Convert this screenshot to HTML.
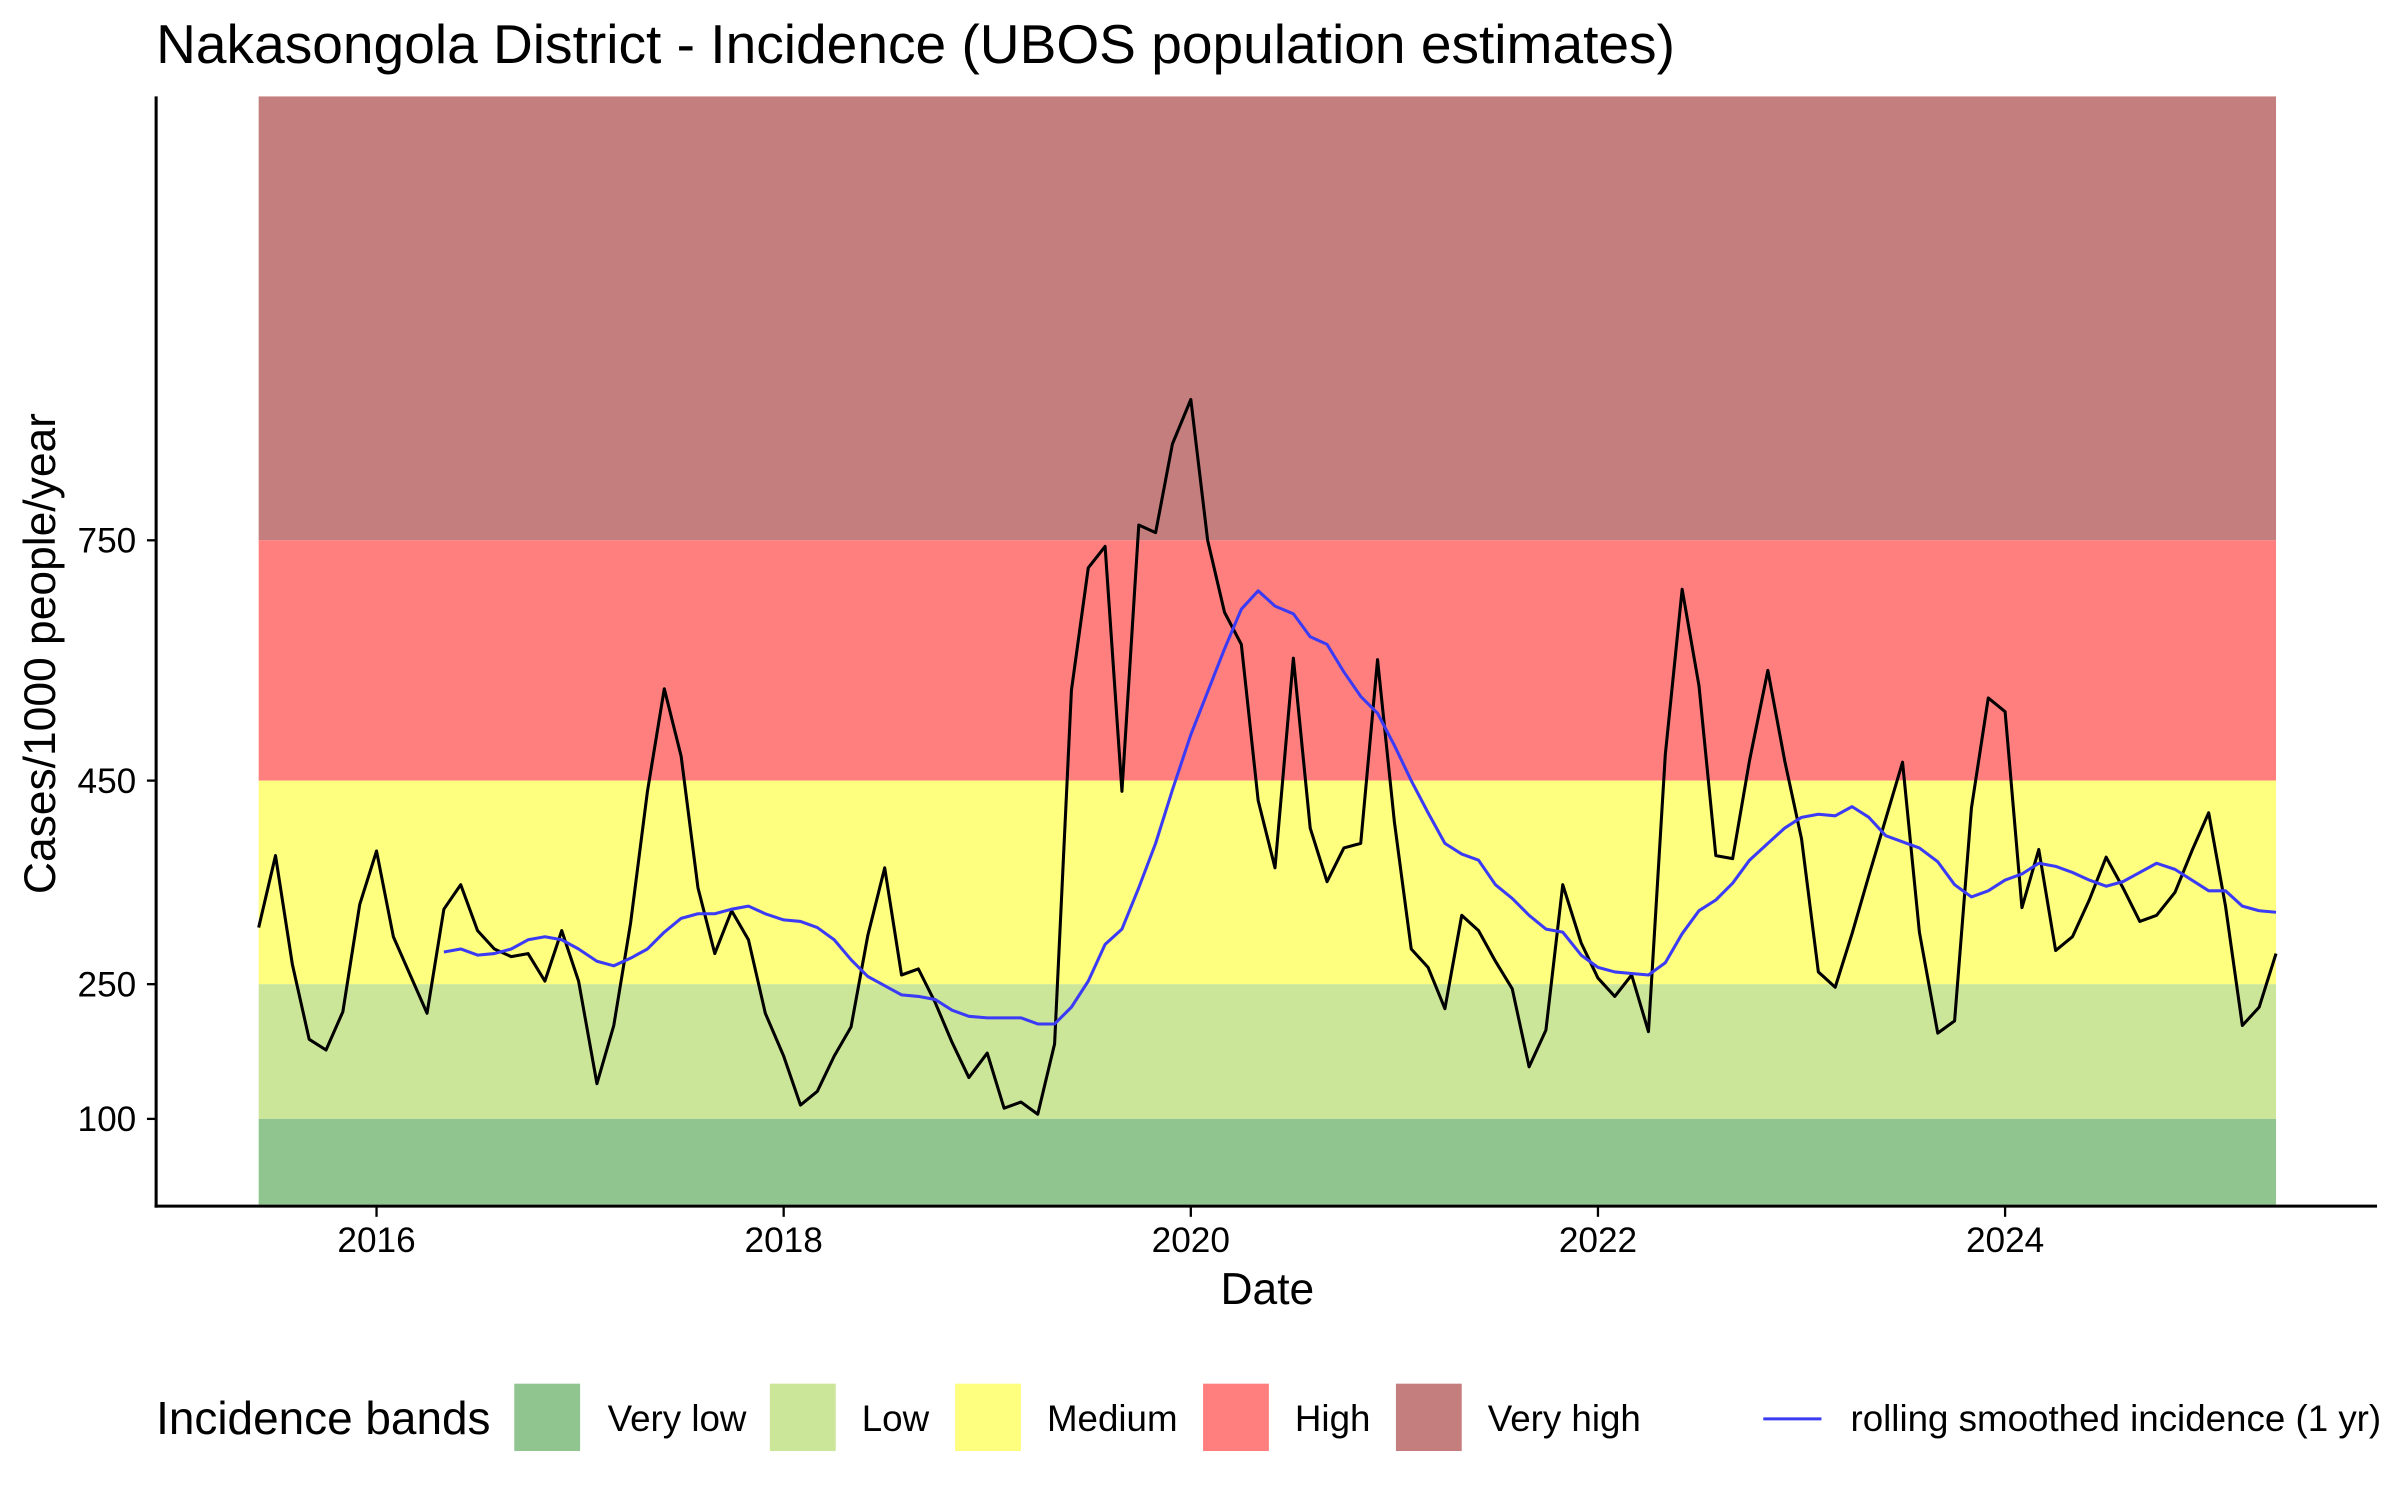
<!DOCTYPE html>
<html><head><meta charset="utf-8"><style>html,body{margin:0;padding:0;background:#fff}svg{display:block}</style></head><body>
<svg width="2400" height="1500" viewBox="0 0 1568 980" xmlns="http://www.w3.org/2000/svg" font-family="Liberation Sans, Arial, sans-serif">
<rect width="1568" height="980" fill="#fff"/>
<text x="102" y="41" font-size="36">Nakasongola District - Incidence (UBOS population estimates)</text>
<rect x="169" y="63" width="1318" height="290" fill="#C47E7E"/>
<rect x="169" y="353" width="1318" height="157" fill="#FF7F7F"/>
<rect x="169" y="510" width="1318" height="133" fill="#FFFF7F"/>
<rect x="169" y="643" width="1318" height="88" fill="#CCE699"/>
<rect x="169" y="731" width="1318" height="56" fill="#91C58F"/>
<polyline fill="none" stroke="#000" stroke-width="2" stroke-linejoin="round" points="169,606 180,559 191,630 202,679 213,686 224,661 235,591 246,556 257,612 268,637 279,662 290,594 301,578 312,608 323,620 334,625 345,623 356,641 367,608 378,641 390,708 401,670 412,603 423,517 434,450 445,494 456,580 467,623 478,595 489,614 500,662 512,690 523,722 534,713 545,690 556,671 567,611 578,567 589,637 600,633 611,655 622,681 633,704 645,688 656,724 667,720 678,728 689,682 700,451 711,371 722,357 733,517 744,343 755,348 766,290 778,261 789,353 800,400 811,421 822,523 833,567 845,430 856,541 867,576 878,554 889,551 900,431 911,537 922,620 933,632 944,659 955,598 966,608 977,628 988,646 999,697 1010,673 1021,578 1033,616 1044,639 1055,651 1066,637 1077,674 1088,493 1099,385 1110,448 1121,559 1132,561 1143,497 1155,438 1166,497 1177,548 1188,635 1199,645 1210,610 1221,572 1232,535 1243,498 1254,609 1266,675 1277,667 1288,528 1299,456 1310,465 1321,593 1332,555 1343,621 1354,612 1365,588 1376,560 1387,580 1398,602 1409,598 1421,583 1432,556 1443,531 1454,592 1465,670 1476,658 1487,623"/>
<polyline fill="none" stroke="#3B3BF5" stroke-width="2" stroke-linejoin="round" points="290,622 301,620 312,624 323,623 334,620 345,614 356,612 367,614 378,620 390,628 401,631 412,626 423,620 434,609 445,600 456,597 467,597 478,594 489,592 500,597 512,601 523,602 534,606 545,614 556,627 567,638 578,644 589,650 600,651 611,653 622,660 633,664 645,665 656,665 667,665 678,669 689,669 700,658 711,641 722,617 733,607 744,580 755,551 766,516 778,480 789,452 800,424 811,398 822,386 833,396 845,401 856,416 867,421 878,439 889,455 900,466 911,487 922,510 933,531 944,551 955,558 966,562 977,578 988,587 999,598 1010,607 1021,609 1033,624 1044,632 1055,635 1066,636 1077,637 1088,629 1099,610 1110,595 1121,588 1132,577 1143,562 1155,551 1166,541 1177,534 1188,532 1199,533 1210,527 1221,534 1232,546 1243,550 1254,554 1266,563 1277,578 1288,586 1299,582 1310,575 1321,571 1332,564 1343,566 1354,570 1365,575 1376,579 1387,576 1398,570 1409,564 1421,568 1432,575 1443,582 1454,582 1465,592 1476,595 1487,596"/>
<line x1="102" y1="63" x2="102" y2="789" stroke="#000" stroke-width="2"/>
<line x1="101" y1="788" x2="1553" y2="788" stroke="#000" stroke-width="2"/>
<g stroke="#000" stroke-width="1.5">
<line x1="96" y1="353" x2="102" y2="353"/><line x1="96" y1="510" x2="102" y2="510"/><line x1="96" y1="643" x2="102" y2="643"/><line x1="96" y1="731" x2="102" y2="731"/>
<line x1="246" y1="788" x2="246" y2="795"/><line x1="512" y1="788" x2="512" y2="795"/><line x1="778" y1="788" x2="778" y2="795"/><line x1="1044" y1="788" x2="1044" y2="795"/><line x1="1310" y1="788" x2="1310" y2="795"/>
</g>
<g font-size="23" text-anchor="end">
<text x="89" y="361">750</text><text x="89" y="518">450</text><text x="89" y="651">250</text><text x="89" y="739">100</text>
</g>
<g font-size="23" text-anchor="middle">
<text x="246" y="818">2016</text><text x="512" y="818">2018</text><text x="778" y="818">2020</text><text x="1044" y="818">2022</text><text x="1310" y="818">2024</text>
</g>
<text x="828" y="852" font-size="29" text-anchor="middle">Date</text>
<text transform="translate(36,427) rotate(-90)" font-size="29" text-anchor="middle">Cases/1000 people/year</text>
<text x="102" y="937" font-size="30">Incidence bands</text>
<rect x="336" y="904" width="43" height="44" fill="#91C58F"/>
<rect x="503" y="904" width="43" height="44" fill="#CCE699"/>
<rect x="624" y="904" width="43" height="44" fill="#FFFF7F"/>
<rect x="786" y="904" width="43" height="44" fill="#FF7F7F"/>
<rect x="912" y="904" width="43" height="44" fill="#C47E7E"/>
<line x1="1152" y1="927" x2="1190" y2="927" stroke="#3B3BF5" stroke-width="2"/>
<g font-size="24">
<text x="397" y="935">Very low</text><text x="563" y="935">Low</text><text x="684" y="935">Medium</text><text x="846" y="935">High</text><text x="972" y="935">Very high</text><text x="1209" y="935">rolling smoothed incidence (1 yr)</text>
</g>
</svg>
</body></html>
